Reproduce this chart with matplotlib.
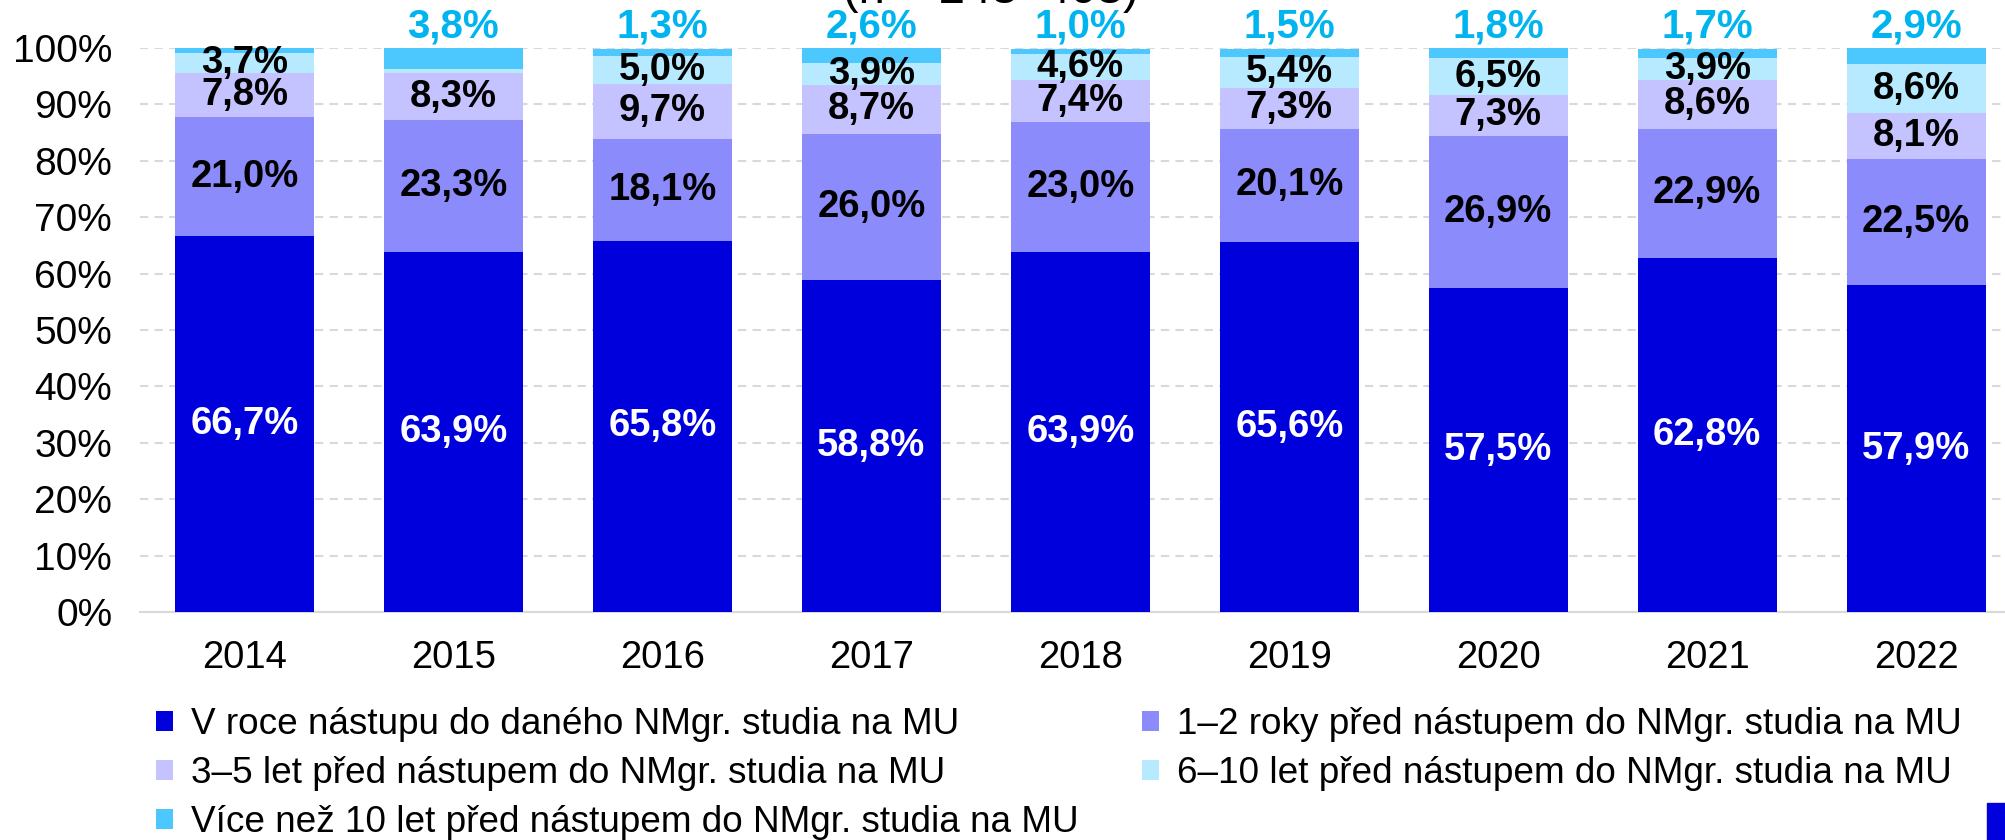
import numpy as np
import matplotlib
matplotlib.use('Agg')
import matplotlib.pyplot as plt
from matplotlib.patches import Rectangle

plt.rcParams['font.family'] = ['Liberation Sans', 'DejaVu Sans']

# data
years = ['2014', '2015', '2016', '2017', '2018', '2019', '2020', '2021', '2022']
v_roce = [66.7, 63.9, 65.8, 58.8, 63.9, 65.6, 57.5, 62.8, 57.9]
roky_1_2 = [21.0, 23.3, 18.1, 26.0, 23.0, 20.1, 26.9, 22.9, 22.5]
let_3_5 = [7.8, 8.3, 9.7, 8.7, 7.4, 7.3, 7.3, 8.6, 8.1]
let_6_10 = [3.7, 0.7, 5.0, 3.9, 4.6, 5.4, 6.5, 3.9, 8.6]
vice_10 = [0.8, 3.8, 1.3, 2.6, 1.0, 1.5, 1.8, 1.7, 2.9]
# which values carry a label in the original (unlabelled ones are None)
lab_6_10 = [3.7, None, 5.0, 3.9, 4.6, 5.4, 6.5, 3.9, 8.6]
lab_vice_10 = [None, 3.8, 1.3, 2.6, 1.0, 1.5, 1.8, 1.7, 2.9]

series = [v_roce, roky_1_2, let_3_5, let_6_10, vice_10]
names = ['V roce nástupu do daného NMgr. studia na MU',
         '1–2 roky před nástupem do NMgr. studia na MU',
         '3–5 let před nástupem do NMgr. studia na MU',
         '6–10 let před nástupem do NMgr. studia na MU',
         'Více než 10 let před nástupem do NMgr. studia na MU']
colors = ['#0000DC', '#8B8BFB', '#C5C3FF', '#B7EAFE', '#4DC8FF']

def fmt(v):
    return f'{v:.1f}%'.replace('.', ',')

fig = plt.figure(figsize=(20.05, 8.4), dpi=100)
ax = fig.add_axes([0.0698, 0.2714, 0.938, 0.6714])

x = np.arange(len(years))
bottom = np.zeros(len(years))
bars = []
for vals, col, name in zip(series, colors, names):
    b = ax.bar(x, vals, 0.665, bottom=bottom, color=col, label=name, zorder=3)
    bars.append(b)
    bottom += np.array(vals)

# labels in the segments
seg_labels = [v_roce, roky_1_2, let_3_5, lab_6_10]
base = np.zeros(len(years))
for i, (vals, labs) in enumerate(zip(series[:4], seg_labels)):
    for j in range(len(years)):
        if labs[j] is not None:
            ax.text(x[j], base[j] + vals[j] / 2, fmt(labs[j]), ha='center', va='center',
                    fontsize=27.5, fontweight='bold',
                    color='white' if i == 0 else 'black', zorder=4)
    base += np.array(vals)

for j in range(len(years)):
    if lab_vice_10[j] is not None:
        ax.annotate(fmt(lab_vice_10[j]), (x[j], 100), xytext=(0, 1.5), textcoords='offset points',
                    ha='center', va='bottom', fontsize=29, fontweight='bold',
                    color='#00B4F0', annotation_clip=False)

ax.set_ylim(0, 100)
ax.set_xlim(-0.5, len(years) - 0.5)
ax.set_yticks(np.arange(0, 101, 10))
ax.set_yticklabels([f'{t}%' for t in range(0, 101, 10)], fontsize=28)
ax.set_xticks(x)
ax.set_xticklabels(years, fontsize=27.5)
ax.tick_params(axis='both', length=0)
ax.tick_params(axis='x', pad=20)
ax.tick_params(axis='y', pad=20)
ax.yaxis.grid(True, color='#D9D9D9', linestyle=(0, (4, 3)), linewidth=1.5, zorder=0)
for s in ['top', 'right', 'left']:
    ax.spines[s].set_visible(False)
ax.spines['bottom'].set_color('#D9D9D9')
ax.spines['bottom'].set_linewidth(1.5)

# title, cut off at the top like in the original
fig.text(0.494, 0.997, '(n = 243–403)', ha='center', va='baseline', fontsize=34)

# legend, row-wise ordering
order = [0, 2, 4, 1, 3]
fig.legend([bars[i] for i in order], [names[i] for i in order],
           loc='upper left', bbox_to_anchor=(0.0778, 0.158), ncol=2,
           frameon=False, fontsize=26.6, handlelength=0.45, handleheight=0.45,
           handletextpad=0.5, columnspacing=1.72, labelspacing=0.38,
           borderpad=0, borderaxespad=0)

# logo fragment in the bottom right corner
fig.patches.append(Rectangle((0.991, 0), 0.009, 0.044, transform=fig.transFigure,
                             color='#0000DC', figure=fig))

fig.savefig('out.png', dpi=100)
